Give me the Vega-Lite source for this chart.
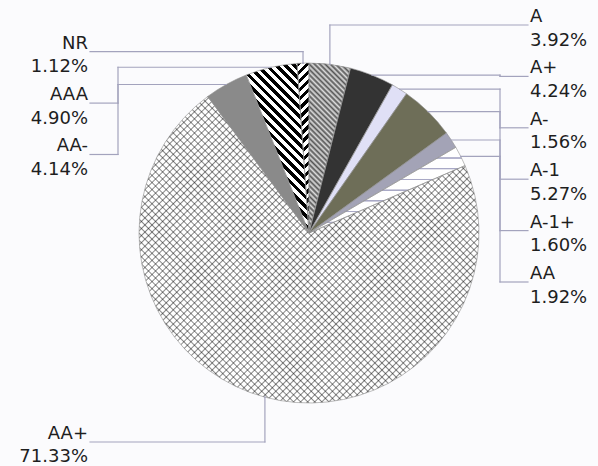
{
  "$schema": "https://vega.github.io/schema/vega-lite/v6.json",
  "autosize": {"type": "none"},
  "width": 578,
  "height": 466,
  "padding": {"left": 20, "top": 0, "right": 0, "bottom": 0},
  "background": "#fbfbfd",
  "config": {"view": {"stroke": null}, "font": "DejaVu Sans"},
  "data": {
    "values": [
      {"rating": "A", "share": 3.92},
      {"rating": "A+", "share": 4.24},
      {"rating": "A-", "share": 1.56},
      {"rating": "A-1", "share": 5.27},
      {"rating": "A-1+", "share": 1.60},
      {"rating": "AA", "share": 1.92},
      {"rating": "AA+", "share": 71.33},
      {"rating": "AA-", "share": 4.14},
      {"rating": "AAA", "share": 4.90},
      {"rating": "NR", "share": 1.12}
    ]
  },
  "transform": [
    {"window": [{"op": "sum", "field": "share", "as": "end"}], "frame": [null, 0]},
    {"calculate": "datum.end - datum.share", "as": "start"},
    {"calculate": "PI * (datum.start + datum.end) / 100", "as": "ang"},
    {"calculate": "sin(datum.ang)", "as": "ax"},
    {"calculate": "cos(datum.ang)", "as": "ay"},
    {"calculate": "datum.ax > 0 ? 1 : -1", "as": "side"},
    {"calculate": "datum.ay >= 0", "as": "upper"},
    {"calculate": "datum.side * datum.start", "as": "key"},
    {"window": [{"op": "row_number", "as": "slot"}], "groupby": ["side", "upper"], "sort": [{"field": "key", "order": "ascending"}]},
    {"calculate": "datum.upper ? (datum.side > 0 ? 1.2235 : 1.0665) - 0.30235 * (datum.slot - 1) : -1.2294 + 0.30235 * (datum.slot - 1)", "as": "ly"},
    {"calculate": "abs(datum.ly) > abs(datum.ay) ? datum.ax : 1.1235 * datum.side", "as": "ex"},
    {"calculate": "1.288 * datum.side", "as": "lx0"},
    {"calculate": "1.3 * datum.side", "as": "tx"},
    {"calculate": "datum.rating + '\\n' + format(datum.share, '.2f') + '%'", "as": "label"}
  ],
  "layer": [
    {
      "mark": {"type": "arc", "radius": 170, "stroke": null},
      "encoding": {
        "theta": {"field": "start", "type": "quantitative", "stack": null, "scale": {"domain": [0, 100], "range": [0, 6.283185307179586]}},
        "theta2": {"field": "end"},
        "color": {
          "field": "rating", "type": "nominal", "legend": null,
          "scale": {
            "domain": ["A", "A+", "A-", "A-1", "A-1+", "AA", "AA+", "AA-", "AAA", "NR"],
            "range": ["#9c9c9c", "#333333", "#e0e0f6", "#6e6e58", "#a3a3b6", "#ffffff", "#ffffff", "#8a8a8a", "#ffffff", "#ffffff"]
          }
        }
      }
    },
    {
      "transform": [{"filter": "datum.rating === 'A'"}],
      "mark": {"type": "arc", "radius": 170, "stroke": null, "fill": {"gradient": "linear", "x1": 0, "y1": 1, "x2": 0.2859, "y2": -0.174, "stops": [
        {"offset": 0, "color": "#555"}, {"offset": 0.0125, "color": "#ddd"}, {"offset": 0.025, "color": "#555"}, {"offset": 0.0375, "color": "#ddd"},
        {"offset": 0.05, "color": "#555"}, {"offset": 0.0625, "color": "#ddd"}, {"offset": 0.075, "color": "#555"}, {"offset": 0.0875, "color": "#ddd"},
        {"offset": 0.1, "color": "#555"}, {"offset": 0.1125, "color": "#ddd"}, {"offset": 0.125, "color": "#555"}, {"offset": 0.1375, "color": "#ddd"},
        {"offset": 0.15, "color": "#555"}, {"offset": 0.1625, "color": "#ddd"}, {"offset": 0.175, "color": "#555"}, {"offset": 0.1875, "color": "#ddd"},
        {"offset": 0.2, "color": "#555"}, {"offset": 0.2125, "color": "#ddd"}, {"offset": 0.225, "color": "#555"}, {"offset": 0.2375, "color": "#ddd"},
        {"offset": 0.25, "color": "#555"}, {"offset": 0.2625, "color": "#ddd"}, {"offset": 0.275, "color": "#555"}, {"offset": 0.2875, "color": "#ddd"},
        {"offset": 0.3, "color": "#555"}, {"offset": 0.3125, "color": "#ddd"}, {"offset": 0.325, "color": "#555"}, {"offset": 0.3375, "color": "#ddd"},
        {"offset": 0.35, "color": "#555"}, {"offset": 0.3625, "color": "#ddd"}, {"offset": 0.375, "color": "#555"}, {"offset": 0.3875, "color": "#ddd"},
        {"offset": 0.4, "color": "#555"}, {"offset": 0.4125, "color": "#ddd"}, {"offset": 0.425, "color": "#555"}, {"offset": 0.4375, "color": "#ddd"},
        {"offset": 0.45, "color": "#555"}, {"offset": 0.4625, "color": "#ddd"}, {"offset": 0.475, "color": "#555"}, {"offset": 0.4875, "color": "#ddd"},
        {"offset": 0.5, "color": "#555"}, {"offset": 0.5125, "color": "#ddd"}, {"offset": 0.525, "color": "#555"}, {"offset": 0.5375, "color": "#ddd"},
        {"offset": 0.55, "color": "#555"}, {"offset": 0.5625, "color": "#ddd"}, {"offset": 0.575, "color": "#555"}, {"offset": 0.5875, "color": "#ddd"},
        {"offset": 0.6, "color": "#555"}, {"offset": 0.6125, "color": "#ddd"}, {"offset": 0.625, "color": "#555"}, {"offset": 0.6375, "color": "#ddd"},
        {"offset": 0.65, "color": "#555"}, {"offset": 0.6625, "color": "#ddd"}, {"offset": 0.675, "color": "#555"}, {"offset": 0.6875, "color": "#ddd"},
        {"offset": 0.7, "color": "#555"}, {"offset": 0.7125, "color": "#ddd"}, {"offset": 0.725, "color": "#555"}, {"offset": 0.7375, "color": "#ddd"},
        {"offset": 0.75, "color": "#555"}, {"offset": 0.7625, "color": "#ddd"}, {"offset": 0.775, "color": "#555"}, {"offset": 0.7875, "color": "#ddd"},
        {"offset": 0.8, "color": "#555"}, {"offset": 0.8125, "color": "#ddd"}, {"offset": 0.825, "color": "#555"}, {"offset": 0.8375, "color": "#ddd"},
        {"offset": 0.85, "color": "#555"}, {"offset": 0.8625, "color": "#ddd"}, {"offset": 0.875, "color": "#555"}, {"offset": 0.8875, "color": "#ddd"},
        {"offset": 0.9, "color": "#555"}, {"offset": 0.9125, "color": "#ddd"}, {"offset": 0.925, "color": "#555"}, {"offset": 0.9375, "color": "#ddd"},
        {"offset": 0.95, "color": "#555"}, {"offset": 0.9625, "color": "#ddd"}, {"offset": 0.975, "color": "#555"}, {"offset": 0.9875, "color": "#ddd"},
        {"offset": 1, "color": "#555"}
      ]}},
      "encoding": {
        "theta": {"field": "start", "type": "quantitative", "stack": null, "scale": {"domain": [0, 100], "range": [0, 6.283185307179586]}},
        "theta2": {"field": "end"}
      }
    },
    {
      "transform": [{"filter": "datum.rating === 'AA'"}],
      "mark": {"type": "arc", "radius": 170, "stroke": null, "fill": {"gradient": "linear", "x1": 0, "y1": 0, "x2": 0, "y2": 1, "stops": [
        {"offset": 0, "color": "#fff"},
        {"offset": 0.114, "color": "#fff"}, {"offset": 0.12, "color": "#a9a9c6"}, {"offset": 0.13, "color": "#a9a9c6"}, {"offset": 0.136, "color": "#fff"},
        {"offset": 0.239, "color": "#fff"}, {"offset": 0.245, "color": "#a9a9c6"}, {"offset": 0.255, "color": "#a9a9c6"}, {"offset": 0.261, "color": "#fff"},
        {"offset": 0.364, "color": "#fff"}, {"offset": 0.37, "color": "#a9a9c6"}, {"offset": 0.38, "color": "#a9a9c6"}, {"offset": 0.386, "color": "#fff"},
        {"offset": 0.489, "color": "#fff"}, {"offset": 0.495, "color": "#a9a9c6"}, {"offset": 0.505, "color": "#a9a9c6"}, {"offset": 0.511, "color": "#fff"},
        {"offset": 0.614, "color": "#fff"}, {"offset": 0.62, "color": "#a9a9c6"}, {"offset": 0.63, "color": "#a9a9c6"}, {"offset": 0.636, "color": "#fff"},
        {"offset": 0.739, "color": "#fff"}, {"offset": 0.745, "color": "#a9a9c6"}, {"offset": 0.755, "color": "#a9a9c6"}, {"offset": 0.761, "color": "#fff"},
        {"offset": 0.864, "color": "#fff"}, {"offset": 0.87, "color": "#a9a9c6"}, {"offset": 0.88, "color": "#a9a9c6"}, {"offset": 0.886, "color": "#fff"},
        {"offset": 1, "color": "#fff"}
      ]}},
      "encoding": {
        "theta": {"field": "start", "type": "quantitative", "stack": null, "scale": {"domain": [0, 100], "range": [0, 6.283185307179586]}},
        "theta2": {"field": "end"}
      }
    },
    {
      "transform": [{"filter": "datum.rating === 'AA+'"}],
      "mark": {"type": "arc", "radius": 170, "stroke": null, "fill": {"gradient": "linear", "x1": 0, "y1": 0, "x2": 1.148, "y2": 1.035, "stops": [
        {"offset":0.008,"color":"#0000"},{"offset":0.01,"color":"#0007"},{"offset":0.012,"color":"#0000"},
        {"offset":0.018,"color":"#0000"},{"offset":0.02,"color":"#0007"},{"offset":0.022,"color":"#0000"},
        {"offset":0.028,"color":"#0000"},{"offset":0.03,"color":"#0007"},{"offset":0.032,"color":"#0000"},
        {"offset":0.038,"color":"#0000"},{"offset":0.04,"color":"#0007"},{"offset":0.042,"color":"#0000"},
        {"offset":0.048,"color":"#0000"},{"offset":0.05,"color":"#0007"},{"offset":0.052,"color":"#0000"},
        {"offset":0.058,"color":"#0000"},{"offset":0.06,"color":"#0007"},{"offset":0.062,"color":"#0000"},
        {"offset":0.068,"color":"#0000"},{"offset":0.07,"color":"#0007"},{"offset":0.072,"color":"#0000"},
        {"offset":0.078,"color":"#0000"},{"offset":0.08,"color":"#0007"},{"offset":0.082,"color":"#0000"},
        {"offset":0.088,"color":"#0000"},{"offset":0.09,"color":"#0007"},{"offset":0.092,"color":"#0000"},
        {"offset":0.098,"color":"#0000"},{"offset":0.1,"color":"#0007"},{"offset":0.102,"color":"#0000"},
        {"offset":0.108,"color":"#0000"},{"offset":0.11,"color":"#0007"},{"offset":0.112,"color":"#0000"},
        {"offset":0.118,"color":"#0000"},{"offset":0.12,"color":"#0007"},{"offset":0.122,"color":"#0000"},
        {"offset":0.128,"color":"#0000"},{"offset":0.13,"color":"#0007"},{"offset":0.132,"color":"#0000"},
        {"offset":0.138,"color":"#0000"},{"offset":0.14,"color":"#0007"},{"offset":0.142,"color":"#0000"},
        {"offset":0.148,"color":"#0000"},{"offset":0.15,"color":"#0007"},{"offset":0.152,"color":"#0000"},
        {"offset":0.158,"color":"#0000"},{"offset":0.16,"color":"#0007"},{"offset":0.162,"color":"#0000"},
        {"offset":0.168,"color":"#0000"},{"offset":0.17,"color":"#0007"},{"offset":0.172,"color":"#0000"},
        {"offset":0.178,"color":"#0000"},{"offset":0.18,"color":"#0007"},{"offset":0.182,"color":"#0000"},
        {"offset":0.188,"color":"#0000"},{"offset":0.19,"color":"#0007"},{"offset":0.192,"color":"#0000"},
        {"offset":0.198,"color":"#0000"},{"offset":0.2,"color":"#0007"},{"offset":0.202,"color":"#0000"},
        {"offset":0.208,"color":"#0000"},{"offset":0.21,"color":"#0007"},{"offset":0.212,"color":"#0000"},
        {"offset":0.218,"color":"#0000"},{"offset":0.22,"color":"#0007"},{"offset":0.222,"color":"#0000"},
        {"offset":0.228,"color":"#0000"},{"offset":0.23,"color":"#0007"},{"offset":0.232,"color":"#0000"},
        {"offset":0.238,"color":"#0000"},{"offset":0.24,"color":"#0007"},{"offset":0.242,"color":"#0000"},
        {"offset":0.248,"color":"#0000"},{"offset":0.25,"color":"#0007"},{"offset":0.252,"color":"#0000"},
        {"offset":0.258,"color":"#0000"},{"offset":0.26,"color":"#0007"},{"offset":0.262,"color":"#0000"},
        {"offset":0.268,"color":"#0000"},{"offset":0.27,"color":"#0007"},{"offset":0.272,"color":"#0000"},
        {"offset":0.278,"color":"#0000"},{"offset":0.28,"color":"#0007"},{"offset":0.282,"color":"#0000"},
        {"offset":0.288,"color":"#0000"},{"offset":0.29,"color":"#0007"},{"offset":0.292,"color":"#0000"},
        {"offset":0.298,"color":"#0000"},{"offset":0.3,"color":"#0007"},{"offset":0.302,"color":"#0000"},
        {"offset":0.308,"color":"#0000"},{"offset":0.31,"color":"#0007"},{"offset":0.312,"color":"#0000"},
        {"offset":0.318,"color":"#0000"},{"offset":0.32,"color":"#0007"},{"offset":0.322,"color":"#0000"},
        {"offset":0.328,"color":"#0000"},{"offset":0.33,"color":"#0007"},{"offset":0.332,"color":"#0000"},
        {"offset":0.338,"color":"#0000"},{"offset":0.34,"color":"#0007"},{"offset":0.342,"color":"#0000"},
        {"offset":0.348,"color":"#0000"},{"offset":0.35,"color":"#0007"},{"offset":0.352,"color":"#0000"},
        {"offset":0.358,"color":"#0000"},{"offset":0.36,"color":"#0007"},{"offset":0.362,"color":"#0000"},
        {"offset":0.368,"color":"#0000"},{"offset":0.37,"color":"#0007"},{"offset":0.372,"color":"#0000"},
        {"offset":0.378,"color":"#0000"},{"offset":0.38,"color":"#0007"},{"offset":0.382,"color":"#0000"},
        {"offset":0.388,"color":"#0000"},{"offset":0.39,"color":"#0007"},{"offset":0.392,"color":"#0000"},
        {"offset":0.398,"color":"#0000"},{"offset":0.4,"color":"#0007"},{"offset":0.402,"color":"#0000"},
        {"offset":0.408,"color":"#0000"},{"offset":0.41,"color":"#0007"},{"offset":0.412,"color":"#0000"},
        {"offset":0.418,"color":"#0000"},{"offset":0.42,"color":"#0007"},{"offset":0.422,"color":"#0000"},
        {"offset":0.428,"color":"#0000"},{"offset":0.43,"color":"#0007"},{"offset":0.432,"color":"#0000"},
        {"offset":0.438,"color":"#0000"},{"offset":0.44,"color":"#0007"},{"offset":0.442,"color":"#0000"},
        {"offset":0.448,"color":"#0000"},{"offset":0.45,"color":"#0007"},{"offset":0.452,"color":"#0000"},
        {"offset":0.458,"color":"#0000"},{"offset":0.46,"color":"#0007"},{"offset":0.462,"color":"#0000"},
        {"offset":0.468,"color":"#0000"},{"offset":0.47,"color":"#0007"},{"offset":0.472,"color":"#0000"},
        {"offset":0.478,"color":"#0000"},{"offset":0.48,"color":"#0007"},{"offset":0.482,"color":"#0000"},
        {"offset":0.488,"color":"#0000"},{"offset":0.49,"color":"#0007"},{"offset":0.492,"color":"#0000"},
        {"offset":0.498,"color":"#0000"},{"offset":0.5,"color":"#0007"},{"offset":0.502,"color":"#0000"},
        {"offset":0.508,"color":"#0000"},{"offset":0.51,"color":"#0007"},{"offset":0.512,"color":"#0000"},
        {"offset":0.518,"color":"#0000"},{"offset":0.52,"color":"#0007"},{"offset":0.522,"color":"#0000"},
        {"offset":0.528,"color":"#0000"},{"offset":0.53,"color":"#0007"},{"offset":0.532,"color":"#0000"},
        {"offset":0.538,"color":"#0000"},{"offset":0.54,"color":"#0007"},{"offset":0.542,"color":"#0000"},
        {"offset":0.548,"color":"#0000"},{"offset":0.55,"color":"#0007"},{"offset":0.552,"color":"#0000"},
        {"offset":0.558,"color":"#0000"},{"offset":0.56,"color":"#0007"},{"offset":0.562,"color":"#0000"},
        {"offset":0.568,"color":"#0000"},{"offset":0.57,"color":"#0007"},{"offset":0.572,"color":"#0000"},
        {"offset":0.578,"color":"#0000"},{"offset":0.58,"color":"#0007"},{"offset":0.582,"color":"#0000"},
        {"offset":0.588,"color":"#0000"},{"offset":0.59,"color":"#0007"},{"offset":0.592,"color":"#0000"},
        {"offset":0.598,"color":"#0000"},{"offset":0.6,"color":"#0007"},{"offset":0.602,"color":"#0000"},
        {"offset":0.608,"color":"#0000"},{"offset":0.61,"color":"#0007"},{"offset":0.612,"color":"#0000"},
        {"offset":0.618,"color":"#0000"},{"offset":0.62,"color":"#0007"},{"offset":0.622,"color":"#0000"},
        {"offset":0.628,"color":"#0000"},{"offset":0.63,"color":"#0007"},{"offset":0.632,"color":"#0000"},
        {"offset":0.638,"color":"#0000"},{"offset":0.64,"color":"#0007"},{"offset":0.642,"color":"#0000"},
        {"offset":0.648,"color":"#0000"},{"offset":0.65,"color":"#0007"},{"offset":0.652,"color":"#0000"},
        {"offset":0.658,"color":"#0000"},{"offset":0.66,"color":"#0007"},{"offset":0.662,"color":"#0000"},
        {"offset":0.668,"color":"#0000"},{"offset":0.67,"color":"#0007"},{"offset":0.672,"color":"#0000"},
        {"offset":0.678,"color":"#0000"},{"offset":0.68,"color":"#0007"},{"offset":0.682,"color":"#0000"},
        {"offset":0.688,"color":"#0000"},{"offset":0.69,"color":"#0007"},{"offset":0.692,"color":"#0000"},
        {"offset":0.698,"color":"#0000"},{"offset":0.7,"color":"#0007"},{"offset":0.702,"color":"#0000"},
        {"offset":0.708,"color":"#0000"},{"offset":0.71,"color":"#0007"},{"offset":0.712,"color":"#0000"},
        {"offset":0.718,"color":"#0000"},{"offset":0.72,"color":"#0007"},{"offset":0.722,"color":"#0000"},
        {"offset":0.728,"color":"#0000"},{"offset":0.73,"color":"#0007"},{"offset":0.732,"color":"#0000"},
        {"offset":0.738,"color":"#0000"},{"offset":0.74,"color":"#0007"},{"offset":0.742,"color":"#0000"},
        {"offset":0.748,"color":"#0000"},{"offset":0.75,"color":"#0007"},{"offset":0.752,"color":"#0000"},
        {"offset":0.758,"color":"#0000"},{"offset":0.76,"color":"#0007"},{"offset":0.762,"color":"#0000"},
        {"offset":0.768,"color":"#0000"},{"offset":0.77,"color":"#0007"},{"offset":0.772,"color":"#0000"},
        {"offset":0.778,"color":"#0000"},{"offset":0.78,"color":"#0007"},{"offset":0.782,"color":"#0000"},
        {"offset":0.788,"color":"#0000"},{"offset":0.79,"color":"#0007"},{"offset":0.792,"color":"#0000"},
        {"offset":0.798,"color":"#0000"},{"offset":0.8,"color":"#0007"},{"offset":0.802,"color":"#0000"},
        {"offset":0.808,"color":"#0000"},{"offset":0.81,"color":"#0007"},{"offset":0.812,"color":"#0000"},
        {"offset":0.818,"color":"#0000"},{"offset":0.82,"color":"#0007"},{"offset":0.822,"color":"#0000"},
        {"offset":0.828,"color":"#0000"},{"offset":0.83,"color":"#0007"},{"offset":0.832,"color":"#0000"},
        {"offset":0.838,"color":"#0000"},{"offset":0.84,"color":"#0007"},{"offset":0.842,"color":"#0000"},
        {"offset":0.848,"color":"#0000"},{"offset":0.85,"color":"#0007"},{"offset":0.852,"color":"#0000"},
        {"offset":0.858,"color":"#0000"},{"offset":0.86,"color":"#0007"},{"offset":0.862,"color":"#0000"},
        {"offset":0.868,"color":"#0000"},{"offset":0.87,"color":"#0007"},{"offset":0.872,"color":"#0000"},
        {"offset":0.878,"color":"#0000"},{"offset":0.88,"color":"#0007"},{"offset":0.882,"color":"#0000"},
        {"offset":0.888,"color":"#0000"},{"offset":0.89,"color":"#0007"},{"offset":0.892,"color":"#0000"},
        {"offset":0.898,"color":"#0000"},{"offset":0.9,"color":"#0007"},{"offset":0.902,"color":"#0000"},
        {"offset":0.908,"color":"#0000"},{"offset":0.91,"color":"#0007"},{"offset":0.912,"color":"#0000"}
      ]}},
      "encoding": {
        "theta": {"field": "start", "type": "quantitative", "stack": null, "scale": {"domain": [0, 100], "range": [0, 6.283185307179586]}},
        "theta2": {"field": "end"}
      }
    },
    {
      "transform": [{"filter": "datum.rating === 'AA+'"}],
      "mark": {"type": "arc", "radius": 170, "stroke": null, "fill": {"gradient": "linear", "x1": 0, "y1": 1, "x2": 1.148, "y2": -0.035, "stops": [
        {"offset":0.008,"color":"#0000"},{"offset":0.01,"color":"#0007"},{"offset":0.012,"color":"#0000"},
        {"offset":0.018,"color":"#0000"},{"offset":0.02,"color":"#0007"},{"offset":0.022,"color":"#0000"},
        {"offset":0.028,"color":"#0000"},{"offset":0.03,"color":"#0007"},{"offset":0.032,"color":"#0000"},
        {"offset":0.038,"color":"#0000"},{"offset":0.04,"color":"#0007"},{"offset":0.042,"color":"#0000"},
        {"offset":0.048,"color":"#0000"},{"offset":0.05,"color":"#0007"},{"offset":0.052,"color":"#0000"},
        {"offset":0.058,"color":"#0000"},{"offset":0.06,"color":"#0007"},{"offset":0.062,"color":"#0000"},
        {"offset":0.068,"color":"#0000"},{"offset":0.07,"color":"#0007"},{"offset":0.072,"color":"#0000"},
        {"offset":0.078,"color":"#0000"},{"offset":0.08,"color":"#0007"},{"offset":0.082,"color":"#0000"},
        {"offset":0.088,"color":"#0000"},{"offset":0.09,"color":"#0007"},{"offset":0.092,"color":"#0000"},
        {"offset":0.098,"color":"#0000"},{"offset":0.1,"color":"#0007"},{"offset":0.102,"color":"#0000"},
        {"offset":0.108,"color":"#0000"},{"offset":0.11,"color":"#0007"},{"offset":0.112,"color":"#0000"},
        {"offset":0.118,"color":"#0000"},{"offset":0.12,"color":"#0007"},{"offset":0.122,"color":"#0000"},
        {"offset":0.128,"color":"#0000"},{"offset":0.13,"color":"#0007"},{"offset":0.132,"color":"#0000"},
        {"offset":0.138,"color":"#0000"},{"offset":0.14,"color":"#0007"},{"offset":0.142,"color":"#0000"},
        {"offset":0.148,"color":"#0000"},{"offset":0.15,"color":"#0007"},{"offset":0.152,"color":"#0000"},
        {"offset":0.158,"color":"#0000"},{"offset":0.16,"color":"#0007"},{"offset":0.162,"color":"#0000"},
        {"offset":0.168,"color":"#0000"},{"offset":0.17,"color":"#0007"},{"offset":0.172,"color":"#0000"},
        {"offset":0.178,"color":"#0000"},{"offset":0.18,"color":"#0007"},{"offset":0.182,"color":"#0000"},
        {"offset":0.188,"color":"#0000"},{"offset":0.19,"color":"#0007"},{"offset":0.192,"color":"#0000"},
        {"offset":0.198,"color":"#0000"},{"offset":0.2,"color":"#0007"},{"offset":0.202,"color":"#0000"},
        {"offset":0.208,"color":"#0000"},{"offset":0.21,"color":"#0007"},{"offset":0.212,"color":"#0000"},
        {"offset":0.218,"color":"#0000"},{"offset":0.22,"color":"#0007"},{"offset":0.222,"color":"#0000"},
        {"offset":0.228,"color":"#0000"},{"offset":0.23,"color":"#0007"},{"offset":0.232,"color":"#0000"},
        {"offset":0.238,"color":"#0000"},{"offset":0.24,"color":"#0007"},{"offset":0.242,"color":"#0000"},
        {"offset":0.248,"color":"#0000"},{"offset":0.25,"color":"#0007"},{"offset":0.252,"color":"#0000"},
        {"offset":0.258,"color":"#0000"},{"offset":0.26,"color":"#0007"},{"offset":0.262,"color":"#0000"},
        {"offset":0.268,"color":"#0000"},{"offset":0.27,"color":"#0007"},{"offset":0.272,"color":"#0000"},
        {"offset":0.278,"color":"#0000"},{"offset":0.28,"color":"#0007"},{"offset":0.282,"color":"#0000"},
        {"offset":0.288,"color":"#0000"},{"offset":0.29,"color":"#0007"},{"offset":0.292,"color":"#0000"},
        {"offset":0.298,"color":"#0000"},{"offset":0.3,"color":"#0007"},{"offset":0.302,"color":"#0000"},
        {"offset":0.308,"color":"#0000"},{"offset":0.31,"color":"#0007"},{"offset":0.312,"color":"#0000"},
        {"offset":0.318,"color":"#0000"},{"offset":0.32,"color":"#0007"},{"offset":0.322,"color":"#0000"},
        {"offset":0.328,"color":"#0000"},{"offset":0.33,"color":"#0007"},{"offset":0.332,"color":"#0000"},
        {"offset":0.338,"color":"#0000"},{"offset":0.34,"color":"#0007"},{"offset":0.342,"color":"#0000"},
        {"offset":0.348,"color":"#0000"},{"offset":0.35,"color":"#0007"},{"offset":0.352,"color":"#0000"},
        {"offset":0.358,"color":"#0000"},{"offset":0.36,"color":"#0007"},{"offset":0.362,"color":"#0000"},
        {"offset":0.368,"color":"#0000"},{"offset":0.37,"color":"#0007"},{"offset":0.372,"color":"#0000"},
        {"offset":0.378,"color":"#0000"},{"offset":0.38,"color":"#0007"},{"offset":0.382,"color":"#0000"},
        {"offset":0.388,"color":"#0000"},{"offset":0.39,"color":"#0007"},{"offset":0.392,"color":"#0000"},
        {"offset":0.398,"color":"#0000"},{"offset":0.4,"color":"#0007"},{"offset":0.402,"color":"#0000"},
        {"offset":0.408,"color":"#0000"},{"offset":0.41,"color":"#0007"},{"offset":0.412,"color":"#0000"},
        {"offset":0.418,"color":"#0000"},{"offset":0.42,"color":"#0007"},{"offset":0.422,"color":"#0000"},
        {"offset":0.428,"color":"#0000"},{"offset":0.43,"color":"#0007"},{"offset":0.432,"color":"#0000"},
        {"offset":0.438,"color":"#0000"},{"offset":0.44,"color":"#0007"},{"offset":0.442,"color":"#0000"},
        {"offset":0.448,"color":"#0000"},{"offset":0.45,"color":"#0007"},{"offset":0.452,"color":"#0000"},
        {"offset":0.458,"color":"#0000"},{"offset":0.46,"color":"#0007"},{"offset":0.462,"color":"#0000"},
        {"offset":0.468,"color":"#0000"},{"offset":0.47,"color":"#0007"},{"offset":0.472,"color":"#0000"},
        {"offset":0.478,"color":"#0000"},{"offset":0.48,"color":"#0007"},{"offset":0.482,"color":"#0000"},
        {"offset":0.488,"color":"#0000"},{"offset":0.49,"color":"#0007"},{"offset":0.492,"color":"#0000"},
        {"offset":0.498,"color":"#0000"},{"offset":0.5,"color":"#0007"},{"offset":0.502,"color":"#0000"},
        {"offset":0.508,"color":"#0000"},{"offset":0.51,"color":"#0007"},{"offset":0.512,"color":"#0000"},
        {"offset":0.518,"color":"#0000"},{"offset":0.52,"color":"#0007"},{"offset":0.522,"color":"#0000"},
        {"offset":0.528,"color":"#0000"},{"offset":0.53,"color":"#0007"},{"offset":0.532,"color":"#0000"},
        {"offset":0.538,"color":"#0000"},{"offset":0.54,"color":"#0007"},{"offset":0.542,"color":"#0000"},
        {"offset":0.548,"color":"#0000"},{"offset":0.55,"color":"#0007"},{"offset":0.552,"color":"#0000"},
        {"offset":0.558,"color":"#0000"},{"offset":0.56,"color":"#0007"},{"offset":0.562,"color":"#0000"},
        {"offset":0.568,"color":"#0000"},{"offset":0.57,"color":"#0007"},{"offset":0.572,"color":"#0000"},
        {"offset":0.578,"color":"#0000"},{"offset":0.58,"color":"#0007"},{"offset":0.582,"color":"#0000"},
        {"offset":0.588,"color":"#0000"},{"offset":0.59,"color":"#0007"},{"offset":0.592,"color":"#0000"},
        {"offset":0.598,"color":"#0000"},{"offset":0.6,"color":"#0007"},{"offset":0.602,"color":"#0000"},
        {"offset":0.608,"color":"#0000"},{"offset":0.61,"color":"#0007"},{"offset":0.612,"color":"#0000"},
        {"offset":0.618,"color":"#0000"},{"offset":0.62,"color":"#0007"},{"offset":0.622,"color":"#0000"},
        {"offset":0.628,"color":"#0000"},{"offset":0.63,"color":"#0007"},{"offset":0.632,"color":"#0000"},
        {"offset":0.638,"color":"#0000"},{"offset":0.64,"color":"#0007"},{"offset":0.642,"color":"#0000"},
        {"offset":0.648,"color":"#0000"},{"offset":0.65,"color":"#0007"},{"offset":0.652,"color":"#0000"},
        {"offset":0.658,"color":"#0000"},{"offset":0.66,"color":"#0007"},{"offset":0.662,"color":"#0000"},
        {"offset":0.668,"color":"#0000"},{"offset":0.67,"color":"#0007"},{"offset":0.672,"color":"#0000"},
        {"offset":0.678,"color":"#0000"},{"offset":0.68,"color":"#0007"},{"offset":0.682,"color":"#0000"},
        {"offset":0.688,"color":"#0000"},{"offset":0.69,"color":"#0007"},{"offset":0.692,"color":"#0000"},
        {"offset":0.698,"color":"#0000"},{"offset":0.7,"color":"#0007"},{"offset":0.702,"color":"#0000"},
        {"offset":0.708,"color":"#0000"},{"offset":0.71,"color":"#0007"},{"offset":0.712,"color":"#0000"},
        {"offset":0.718,"color":"#0000"},{"offset":0.72,"color":"#0007"},{"offset":0.722,"color":"#0000"},
        {"offset":0.728,"color":"#0000"},{"offset":0.73,"color":"#0007"},{"offset":0.732,"color":"#0000"},
        {"offset":0.738,"color":"#0000"},{"offset":0.74,"color":"#0007"},{"offset":0.742,"color":"#0000"},
        {"offset":0.748,"color":"#0000"},{"offset":0.75,"color":"#0007"},{"offset":0.752,"color":"#0000"},
        {"offset":0.758,"color":"#0000"},{"offset":0.76,"color":"#0007"},{"offset":0.762,"color":"#0000"},
        {"offset":0.768,"color":"#0000"},{"offset":0.77,"color":"#0007"},{"offset":0.772,"color":"#0000"},
        {"offset":0.778,"color":"#0000"},{"offset":0.78,"color":"#0007"},{"offset":0.782,"color":"#0000"},
        {"offset":0.788,"color":"#0000"},{"offset":0.79,"color":"#0007"},{"offset":0.792,"color":"#0000"},
        {"offset":0.798,"color":"#0000"},{"offset":0.8,"color":"#0007"},{"offset":0.802,"color":"#0000"},
        {"offset":0.808,"color":"#0000"},{"offset":0.81,"color":"#0007"},{"offset":0.812,"color":"#0000"},
        {"offset":0.818,"color":"#0000"},{"offset":0.82,"color":"#0007"},{"offset":0.822,"color":"#0000"},
        {"offset":0.828,"color":"#0000"},{"offset":0.83,"color":"#0007"},{"offset":0.832,"color":"#0000"},
        {"offset":0.838,"color":"#0000"},{"offset":0.84,"color":"#0007"},{"offset":0.842,"color":"#0000"},
        {"offset":0.848,"color":"#0000"},{"offset":0.85,"color":"#0007"},{"offset":0.852,"color":"#0000"},
        {"offset":0.858,"color":"#0000"},{"offset":0.86,"color":"#0007"},{"offset":0.862,"color":"#0000"},
        {"offset":0.868,"color":"#0000"},{"offset":0.87,"color":"#0007"},{"offset":0.872,"color":"#0000"},
        {"offset":0.878,"color":"#0000"},{"offset":0.88,"color":"#0007"},{"offset":0.882,"color":"#0000"},
        {"offset":0.888,"color":"#0000"},{"offset":0.89,"color":"#0007"},{"offset":0.892,"color":"#0000"},
        {"offset":0.898,"color":"#0000"},{"offset":0.9,"color":"#0007"},{"offset":0.902,"color":"#0000"},
        {"offset":0.908,"color":"#0000"},{"offset":0.91,"color":"#0007"},{"offset":0.912,"color":"#0000"}
      ]}},
      "encoding": {
        "theta": {"field": "start", "type": "quantitative", "stack": null, "scale": {"domain": [0, 100], "range": [0, 6.283185307179586]}},
        "theta2": {"field": "end"}
      }
    },
    {
      "transform": [{"filter": "datum.rating === 'AAA'"}],
      "mark": {"type": "arc", "radius": 170, "stroke": null, "fill": {"gradient": "linear", "x1": 0, "y1": 1, "x2": 0.4462, "y2": -0.2051, "stops": [
        {"offset":0,"color":"#000"},
        {"offset":0.02,"color":"#000"},{"offset":0.02,"color":"#fff"},{"offset":0.04,"color":"#fff"},{"offset":0.04,"color":"#000"},
        {"offset":0.06,"color":"#000"},{"offset":0.06,"color":"#fff"},{"offset":0.08,"color":"#fff"},{"offset":0.08,"color":"#000"},
        {"offset":0.1,"color":"#000"},{"offset":0.1,"color":"#fff"},{"offset":0.12,"color":"#fff"},{"offset":0.12,"color":"#000"},
        {"offset":0.14,"color":"#000"},{"offset":0.14,"color":"#fff"},{"offset":0.16,"color":"#fff"},{"offset":0.16,"color":"#000"},
        {"offset":0.18,"color":"#000"},{"offset":0.18,"color":"#fff"},{"offset":0.2,"color":"#fff"},{"offset":0.2,"color":"#000"},
        {"offset":0.22,"color":"#000"},{"offset":0.22,"color":"#fff"},{"offset":0.24,"color":"#fff"},{"offset":0.24,"color":"#000"},
        {"offset":0.26,"color":"#000"},{"offset":0.26,"color":"#fff"},{"offset":0.28,"color":"#fff"},{"offset":0.28,"color":"#000"},
        {"offset":0.3,"color":"#000"},{"offset":0.3,"color":"#fff"},{"offset":0.32,"color":"#fff"},{"offset":0.32,"color":"#000"},
        {"offset":0.34,"color":"#000"},{"offset":0.34,"color":"#fff"},{"offset":0.36,"color":"#fff"},{"offset":0.36,"color":"#000"},
        {"offset":0.38,"color":"#000"},{"offset":0.38,"color":"#fff"},{"offset":0.4,"color":"#fff"},{"offset":0.4,"color":"#000"},
        {"offset":0.42,"color":"#000"},{"offset":0.42,"color":"#fff"},{"offset":0.44,"color":"#fff"},{"offset":0.44,"color":"#000"},
        {"offset":0.46,"color":"#000"},{"offset":0.46,"color":"#fff"},{"offset":0.48,"color":"#fff"},{"offset":0.48,"color":"#000"},
        {"offset":0.5,"color":"#000"},{"offset":0.5,"color":"#fff"},{"offset":0.52,"color":"#fff"},{"offset":0.52,"color":"#000"},
        {"offset":0.54,"color":"#000"},{"offset":0.54,"color":"#fff"},{"offset":0.56,"color":"#fff"},{"offset":0.56,"color":"#000"},
        {"offset":0.58,"color":"#000"},{"offset":0.58,"color":"#fff"},{"offset":0.6,"color":"#fff"},{"offset":0.6,"color":"#000"},
        {"offset":0.62,"color":"#000"},{"offset":0.62,"color":"#fff"},{"offset":0.64,"color":"#fff"},{"offset":0.64,"color":"#000"},
        {"offset":0.66,"color":"#000"},{"offset":0.66,"color":"#fff"},{"offset":0.68,"color":"#fff"},{"offset":0.68,"color":"#000"},
        {"offset":0.7,"color":"#000"},{"offset":0.7,"color":"#fff"},{"offset":0.72,"color":"#fff"},{"offset":0.72,"color":"#000"},
        {"offset":0.74,"color":"#000"},{"offset":0.74,"color":"#fff"},{"offset":0.76,"color":"#fff"},{"offset":0.76,"color":"#000"},
        {"offset":0.78,"color":"#000"},{"offset":0.78,"color":"#fff"},{"offset":0.8,"color":"#fff"},{"offset":0.8,"color":"#000"},
        {"offset":0.82,"color":"#000"},{"offset":0.82,"color":"#fff"},{"offset":0.84,"color":"#fff"},{"offset":0.84,"color":"#000"},
        {"offset":0.86,"color":"#000"},{"offset":0.86,"color":"#fff"},{"offset":0.88,"color":"#fff"},{"offset":0.88,"color":"#000"},
        {"offset":0.9,"color":"#000"},{"offset":0.9,"color":"#fff"},{"offset":0.92,"color":"#fff"},{"offset":0.92,"color":"#000"},
        {"offset":0.94,"color":"#000"},{"offset":0.94,"color":"#fff"},{"offset":0.96,"color":"#fff"},{"offset":0.96,"color":"#000"},
        {"offset":0.98,"color":"#000"},{"offset":0.98,"color":"#fff"},{"offset":1,"color":"#fff"}
      ]}},
      "encoding": {
        "theta": {"field": "start", "type": "quantitative", "stack": null, "scale": {"domain": [0, 100], "range": [0, 6.283185307179586]}},
        "theta2": {"field": "end"}
      }
    },
    {
      "transform": [{"filter": "datum.rating === 'NR'"}],
      "mark": {"type": "arc", "radius": 170, "stroke": null, "fill": {"gradient": "linear", "x1": 0, "y1": 0, "x2": 0.07487, "y2": 1.0651, "stops": [
        {"offset":0,"color":"#000"},
        {"offset":0.025,"color":"#000"},{"offset":0.025,"color":"#fff"},{"offset":0.05,"color":"#fff"},{"offset":0.05,"color":"#000"},
        {"offset":0.075,"color":"#000"},{"offset":0.075,"color":"#fff"},{"offset":0.1,"color":"#fff"},{"offset":0.1,"color":"#000"},
        {"offset":0.125,"color":"#000"},{"offset":0.125,"color":"#fff"},{"offset":0.15,"color":"#fff"},{"offset":0.15,"color":"#000"},
        {"offset":0.175,"color":"#000"},{"offset":0.175,"color":"#fff"},{"offset":0.2,"color":"#fff"},{"offset":0.2,"color":"#000"},
        {"offset":0.225,"color":"#000"},{"offset":0.225,"color":"#fff"},{"offset":0.25,"color":"#fff"},{"offset":0.25,"color":"#000"},
        {"offset":0.275,"color":"#000"},{"offset":0.275,"color":"#fff"},{"offset":0.3,"color":"#fff"},{"offset":0.3,"color":"#000"},
        {"offset":0.325,"color":"#000"},{"offset":0.325,"color":"#fff"},{"offset":0.35,"color":"#fff"},{"offset":0.35,"color":"#000"},
        {"offset":0.375,"color":"#000"},{"offset":0.375,"color":"#fff"},{"offset":0.4,"color":"#fff"},{"offset":0.4,"color":"#000"},
        {"offset":0.425,"color":"#000"},{"offset":0.425,"color":"#fff"},{"offset":0.45,"color":"#fff"},{"offset":0.45,"color":"#000"},
        {"offset":0.475,"color":"#000"},{"offset":0.475,"color":"#fff"},{"offset":0.5,"color":"#fff"},{"offset":0.5,"color":"#000"},
        {"offset":0.525,"color":"#000"},{"offset":0.525,"color":"#fff"},{"offset":0.55,"color":"#fff"},{"offset":0.55,"color":"#000"},
        {"offset":0.575,"color":"#000"},{"offset":0.575,"color":"#fff"},{"offset":0.6,"color":"#fff"},{"offset":0.6,"color":"#000"},
        {"offset":0.625,"color":"#000"},{"offset":0.625,"color":"#fff"},{"offset":0.65,"color":"#fff"},{"offset":0.65,"color":"#000"},
        {"offset":0.675,"color":"#000"},{"offset":0.675,"color":"#fff"},{"offset":0.7,"color":"#fff"},{"offset":0.7,"color":"#000"},
        {"offset":0.725,"color":"#000"},{"offset":0.725,"color":"#fff"},{"offset":0.75,"color":"#fff"},{"offset":0.75,"color":"#000"},
        {"offset":0.775,"color":"#000"},{"offset":0.775,"color":"#fff"},{"offset":0.8,"color":"#fff"},{"offset":0.8,"color":"#000"},
        {"offset":0.825,"color":"#000"},{"offset":0.825,"color":"#fff"},{"offset":0.85,"color":"#fff"},{"offset":0.85,"color":"#000"},
        {"offset":0.875,"color":"#000"},{"offset":0.875,"color":"#fff"},{"offset":0.9,"color":"#fff"},{"offset":0.9,"color":"#000"},
        {"offset":0.925,"color":"#000"},{"offset":0.925,"color":"#fff"},{"offset":0.95,"color":"#fff"},{"offset":0.95,"color":"#000"},
        {"offset":0.975,"color":"#000"},{"offset":0.975,"color":"#fff"},{"offset":1,"color":"#fff"}
      ]}},
      "encoding": {
        "theta": {"field": "start", "type": "quantitative", "stack": null, "scale": {"domain": [0, 100], "range": [0, 6.283185307179586]}},
        "theta2": {"field": "end"}
      }
    },
    {
      "mark": {"type": "arc", "radius": 170, "filled": false, "stroke": "#8f8f8f", "strokeWidth": 0.6},
      "encoding": {
        "theta": {"field": "start", "type": "quantitative", "stack": null, "scale": {"domain": [0, 100], "range": [0, 6.283185307179586]}},
        "theta2": {"field": "end"}
      }
    },
    {
      "mark": {"type": "rule", "color": "#a3a3bd", "strokeWidth": 1.2, "strokeCap": "square"},
      "encoding": {
        "x": {"field": "lx0", "type": "quantitative", "axis": null, "scale": {"domain": [-1.7, 1.7], "nice": false, "zero": false}},
        "x2": {"field": "ex"},
        "y": {"field": "ly", "type": "quantitative", "axis": null, "scale": {"domain": [-1.37059, 1.37059], "nice": false, "zero": false}}
      }
    },
    {
      "mark": {"type": "rule", "color": "#a3a3bd", "strokeWidth": 1.2, "strokeCap": "square"},
      "encoding": {
        "x": {"field": "ex", "type": "quantitative", "axis": null, "scale": {"domain": [-1.7, 1.7], "nice": false, "zero": false}},
        "y": {"field": "ly", "type": "quantitative", "axis": null, "scale": {"domain": [-1.37059, 1.37059], "nice": false, "zero": false}},
        "y2": {"field": "ay"}
      }
    },
    {
      "mark": {"type": "rule", "color": "#a3a3bd", "strokeWidth": 1.2, "strokeCap": "square"},
      "encoding": {
        "x": {"field": "ex", "type": "quantitative", "axis": null, "scale": {"domain": [-1.7, 1.7], "nice": false, "zero": false}},
        "x2": {"field": "ax"},
        "y": {"field": "ay", "type": "quantitative", "axis": null, "scale": {"domain": [-1.37059, 1.37059], "nice": false, "zero": false}}
      }
    },
    {
      "transform": [{"filter": "datum.side > 0"}],
      "mark": {"type": "text", "align": "left", "baseline": "alphabetic", "dy": -3, "fontSize": 18, "lineHeight": 23.5, "lineBreak": "\n", "font": "DejaVu Sans", "color": "#1e1e1e"},
      "encoding": {
        "x": {"field": "tx", "type": "quantitative", "axis": null, "scale": {"domain": [-1.7, 1.7], "nice": false, "zero": false}},
        "y": {"field": "ly", "type": "quantitative", "axis": null, "scale": {"domain": [-1.37059, 1.37059], "nice": false, "zero": false}},
        "text": {"field": "label"}
      }
    },
    {
      "transform": [{"filter": "datum.side < 0"}],
      "mark": {"type": "text", "align": "right", "baseline": "alphabetic", "dy": -3, "fontSize": 18, "lineHeight": 23.5, "lineBreak": "\n", "font": "DejaVu Sans", "color": "#1e1e1e"},
      "encoding": {
        "x": {"field": "tx", "type": "quantitative", "axis": null, "scale": {"domain": [-1.7, 1.7], "nice": false, "zero": false}},
        "y": {"field": "ly", "type": "quantitative", "axis": null, "scale": {"domain": [-1.37059, 1.37059], "nice": false, "zero": false}},
        "text": {"field": "label"}
      }
    }
  ]
}
